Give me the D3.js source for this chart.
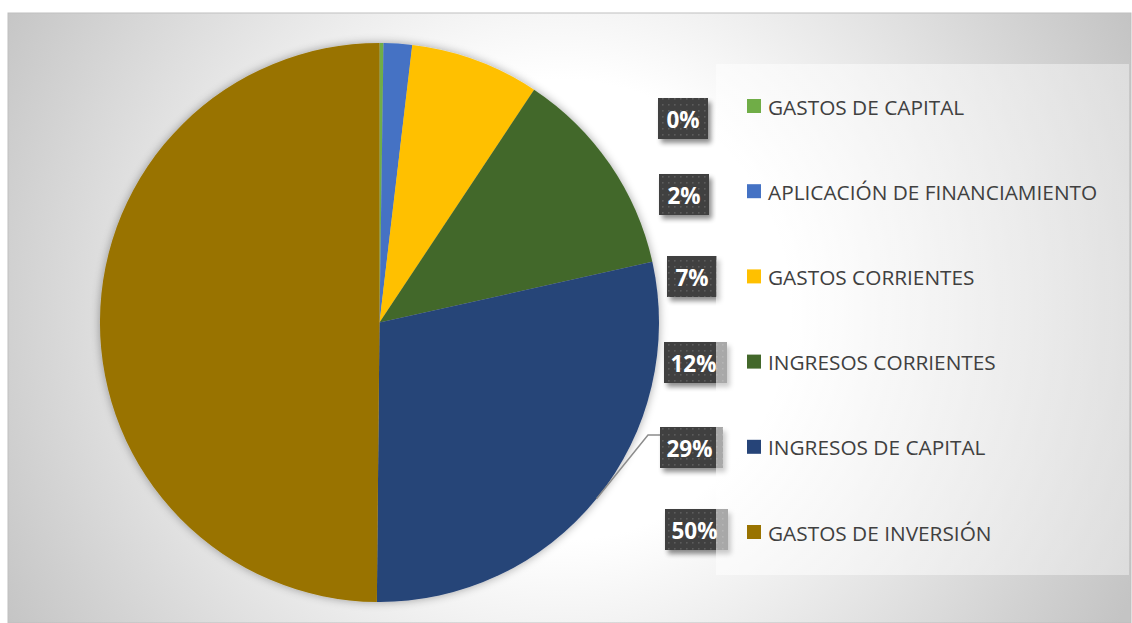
<!DOCTYPE html>
<html>
<head>
<meta charset="utf-8">
<script src="https://cdn.jsdelivr.net/npm/d3@7"></script>
<style>
  html, body { margin: 0; padding: 0; background: #ffffff; }
  svg { display: block; }
</style>
</head>
<body>
<svg id="chart" width="1132" height="623"></svg>
<script>
// ---- data ----
const categories = [
  "GASTOS DE CAPITAL",
  "APLICACIÓN DE FINANCIAMIENTO",
  "GASTOS CORRIENTES",
  "INGRESOS CORRIENTES",
  "INGRESOS DE CAPITAL",
  "GASTOS DE INVERSIÓN"
];
const values = [0.23, 1.64, 7.46, 12.19, 28.63, 49.85];
const colors = ["#70AD47", "#4472C4", "#FFC000", "#43682B", "#264478", "#997300"];

// ---- layout (style, not data) ----
const W = 1132, H = 623;
const cx = 379.5, cy = 322.5, R = 279.5;
const legendBox = { x: 716, y: 64, w: 413, h: 511 };
const legendX = 747, legendY0 = 106, legendStep = 85.2;
// label box positions (left, top) for each slice's data label
const labelBoxes = [
  { x: 658, y: 98, w: 50 },
  { x: 659, y: 174, w: 50 },
  { x: 667, y: 256, w: 50 },
  { x: 664, y: 342, w: 63 },
  { x: 660, y: 427, w: 63 },
  { x: 665, y: 509, w: 63 }
];
const labelH = 41;

const svg = d3.select("#chart");
const defs = svg.append("defs");

// background radial gradient
const bg = defs.append("radialGradient")
  .attr("id", "bgGrad")
  .attr("gradientUnits", "userSpaceOnUse")
  .attr("cx", 560).attr("cy", 310).attr("r", 640);
bg.append("stop").attr("offset", "0%").attr("stop-color", "#ffffff");
bg.append("stop").attr("offset", "36%").attr("stop-color", "#ffffff");
bg.append("stop").attr("offset", "100%").attr("stop-color", "#c4c4c4");

// pie shadow
const sh = defs.append("filter").attr("id", "pieShadow")
  .attr("x", "-10%").attr("y", "-10%").attr("width", "120%").attr("height", "120%");
sh.append("feGaussianBlur").attr("in", "SourceAlpha").attr("stdDeviation", 5).attr("result", "b");
sh.append("feComponentTransfer").attr("in", "b").attr("result", "b2")
  .append("feFuncA").attr("type", "linear").attr("slope", 0.35);
const shm = sh.append("feMerge");
shm.append("feMergeNode").attr("in", "b2");
shm.append("feMergeNode").attr("in", "SourceGraphic");

// label shadow
const lsh = defs.append("filter").attr("id", "lblShadow")
  .attr("x", "-20%").attr("y", "-20%").attr("width", "150%").attr("height", "160%");
lsh.append("feGaussianBlur").attr("in", "SourceAlpha").attr("stdDeviation", 2.5).attr("result", "b");
lsh.append("feOffset").attr("in", "b").attr("dx", 3).attr("dy", 4).attr("result", "o");
lsh.append("feComponentTransfer").attr("in", "o").attr("result", "o2")
  .append("feFuncA").attr("type", "linear").attr("slope", 0.45);
const lshm = lsh.append("feMerge");
lshm.append("feMergeNode").attr("in", "o2");
lshm.append("feMergeNode").attr("in", "SourceGraphic");

// dotted pattern for labels
const pat = defs.append("pattern").attr("id", "dots")
  .attr("patternUnits", "userSpaceOnUse").attr("width", 6).attr("height", 6);
pat.append("rect").attr("width", 6).attr("height", 6).attr("fill", "#404040");
pat.append("rect").attr("x", 2).attr("y", 2).attr("width", 1.6).attr("height", 1.6).attr("fill", "#5c5c5c");

// legend gradient (semi-transparent white)
const lg = defs.append("linearGradient").attr("id", "legGrad")
  .attr("x1", "0%").attr("y1", "0%").attr("x2", "100%").attr("y2", "0%");
lg.append("stop").attr("offset", "0%").attr("stop-color", "#ffffff").attr("stop-opacity", 0.55);
lg.append("stop").attr("offset", "100%").attr("stop-color", "#ffffff").attr("stop-opacity", 0.4);

// chart area
svg.append("rect").attr("x", 8).attr("y", 13).attr("width", W - 9).attr("height", H - 13)
  .attr("fill", "url(#bgGrad)")
  .attr("stroke", "#bfbfbf").attr("stroke-width", 1);

// pie
const pie = d3.pie().sort(null).value(d => d)(values);
const arc = d3.arc().innerRadius(0).outerRadius(R);

const gPie = svg.append("g").attr("transform", `translate(${cx},${cy})`)
  .attr("filter", "url(#pieShadow)");
gPie.selectAll("path").data(pie).join("path")
  .attr("d", arc)
  .attr("fill", (d, i) => colors[i]);

const total = d3.sum(values);
const pctFmt = v => Math.round(v / total * 100) + "%";

// leader line for labels placed away from their slice (INGRESOS DE CAPITAL)
const leaderIdx = [4];
leaderIdx.forEach(i => {
  const a = (pie[i].startAngle + pie[i].endAngle) / 2;
  const px = cx + R * Math.sin(a), py = cy - R * Math.cos(a);
  const b = labelBoxes[i];
  const ly = b.y + 8;
  svg.append("polyline")
    .attr("points", `${px},${py} ${b.x - 12},${ly} ${b.x},${ly}`)
    .attr("fill", "none").attr("stroke", "#8c8c8c").attr("stroke-width", 1.5);
});

// data labels
const gLbl = svg.append("g");
pie.forEach((d, i) => {
  const b = labelBoxes[i];
  const g = gLbl.append("g").attr("filter", "url(#lblShadow)");
  g.append("rect").attr("x", b.x).attr("y", b.y).attr("width", b.w).attr("height", labelH)
    .attr("fill", "url(#dots)");
  gLbl.append("text")
    .attr("x", b.x + b.w / 2 - (b.w > 55 ? 2 : 0)).attr("y", b.y + labelH / 2 + 1)
    .attr("text-anchor", "middle").attr("dominant-baseline", "central")
    .attr("font-family", "'Open Sans', sans-serif").attr("font-weight", "bold")
    .attr("font-size", 22.5).attr("fill", "#ffffff")
    .text(pctFmt(d.value));
});

// legend box (drawn over labels, semi-transparent)
svg.append("rect").attr("x", legendBox.x).attr("y", legendBox.y)
  .attr("width", legendBox.w).attr("height", legendBox.h)
  .attr("fill", "url(#legGrad)");

const gLeg = svg.append("g");
categories.forEach((c, i) => {
  const y = legendY0 + i * legendStep;
  gLeg.append("rect").attr("x", legendX).attr("y", y - 7).attr("width", 14).attr("height", 14)
    .attr("fill", colors[i]);
  gLeg.append("text").attr("x", legendX + 21).attr("y", y + 0.5)
    .attr("dominant-baseline", "central")
    .attr("font-family", "'Open Sans', sans-serif").attr("font-size", 20.8)
    .attr("fill", "#404040")
    .text(c);
});
</script>
</body>
</html>
